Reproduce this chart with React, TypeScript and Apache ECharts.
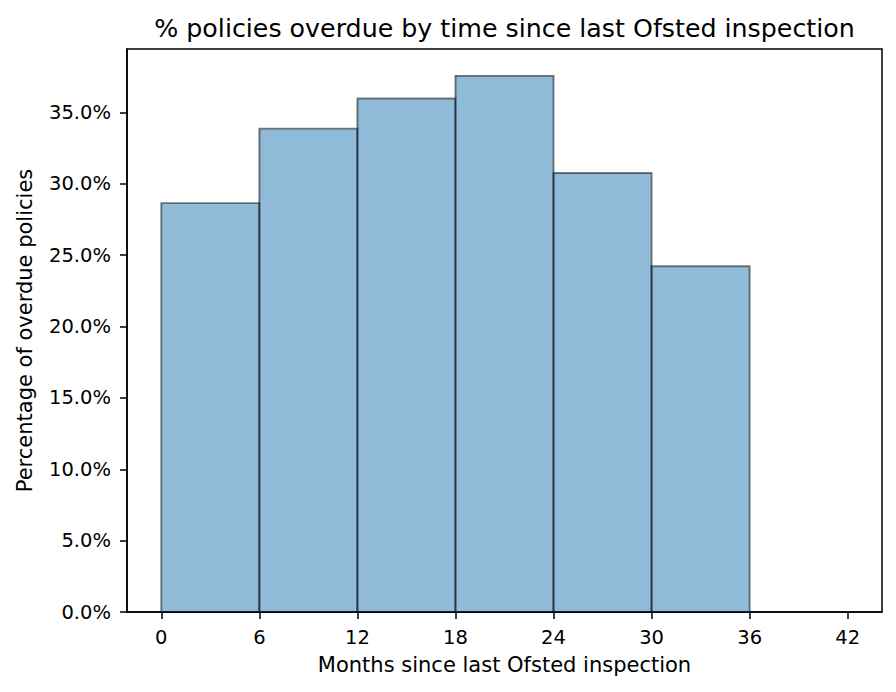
import React, { useEffect, useRef } from "react";
import * as echarts from "echarts";

const TITLE = "% policies overdue by time since last Ofsted inspection";
const X_NAME = "Months since last Ofsted inspection";
const Y_NAME = "Percentage of overdue policies";

const binStarts = [0, 6, 12, 18, 24, 30];
const binEnds = [6, 12, 18, 24, 30, 36];
const overduePct = [28.65, 33.87, 35.98, 37.57, 30.76, 24.23];

const xTicks = [0, 6, 12, 18, 24, 30, 36, 42];
const yTicks = [0, 5, 10, 15, 20, 25, 30, 35];

const FONT = "DejaVu Sans";

export default function App() {
  const ref = useRef<HTMLDivElement>(null);
  useEffect(() => {
    if (!ref.current) return;
    const chart = echarts.init(ref.current, null, { renderer: "svg" });
    const data = binStarts.map((s, i) => [s, binEnds[i], overduePct[i]]);
    chart.setOption({
      animation: false,
      backgroundColor: "#ffffff",
      textStyle: { fontFamily: FONT },
      grid: {
        left: 127,
        right: 14,
        top: 49,
        bottom: 80,
        show: true,
        borderColor: "#000",
        borderWidth: 1.5,
        backgroundColor: "transparent",
      },
      xAxis: {
        type: "value",
        min: -2.1,
        max: 44.1,
        splitLine: { show: false },
        axisLine: { show: true, onZero: false, lineStyle: { color: "#000", width: 1.5 } },
        axisTick: {
          show: true,
          inside: false,
          length: 7,
          lineStyle: { color: "#000", width: 1.5 },
          customValues: xTicks,
        },
        axisLabel: {
          color: "#000",
          fontSize: 19.5,
          fontFamily: FONT,
          margin: 15,
          customValues: xTicks,
          formatter: (v: number) => String(v),
        },
      },
      yAxis: {
        type: "value",
        min: 0,
        max: 39.45,
        splitLine: { show: false },
        axisLine: { show: true, onZero: false, lineStyle: { color: "#000", width: 1.5 } },
        axisTick: {
          show: true,
          inside: false,
          length: 7,
          lineStyle: { color: "#000", width: 1.5 },
          customValues: yTicks,
        },
        axisLabel: {
          color: "#000",
          fontSize: 19.5,
          fontFamily: FONT,
          margin: 16,
          customValues: yTicks,
          formatter: (v: number) => v.toFixed(1) + "%",
        },
      },
      series: [
        {
          type: "custom",
          data,
          encode: { x: [0, 1], y: 2 },
          renderItem: (params: any, api: any) => {
            const x0 = api.value(0);
            const x1 = api.value(1);
            const v = api.value(2);
            const p0 = api.coord([x0, v]);
            const p1 = api.coord([x1, 0]);
            return {
              type: "rect",
              shape: {
                x: p0[0],
                y: p0[1],
                width: p1[0] - p0[0],
                height: p1[1] - p0[1],
              },
              style: {
                fill: "rgba(31,119,180,0.5)",
                stroke: "rgba(0,0,0,0.5)",
                lineWidth: 1.9,
              },
            };
          },
        },
      ],
      graphic: [
        {
          type: "text",
          x: 504.5,
          y: 28,
          style: {
            text: TITLE,
            fontSize: 25.3,
            fontFamily: FONT,
            fill: "#000",
            textAlign: "center",
            textVerticalAlign: "middle",
          },
        },
        {
          type: "text",
          x: 504.5,
          y: 665,
          style: {
            text: X_NAME,
            fontSize: 21,
            fontFamily: FONT,
            fill: "#000",
            textAlign: "center",
            textVerticalAlign: "middle",
          },
        },
        {
          type: "text",
          x: 25,
          y: 330.5,
          rotation: Math.PI / 2,
          style: {
            text: Y_NAME,
            fontSize: 21,
            fontFamily: FONT,
            fill: "#000",
            textAlign: "center",
            textVerticalAlign: "middle",
          },
        },
      ],
    });
    return () => chart.dispose();
  }, []);
  return (
    <div
      ref={ref}
      style={{ position: "absolute", left: 0, top: 0, width: 896, height: 692 }}
    />
  );
}
